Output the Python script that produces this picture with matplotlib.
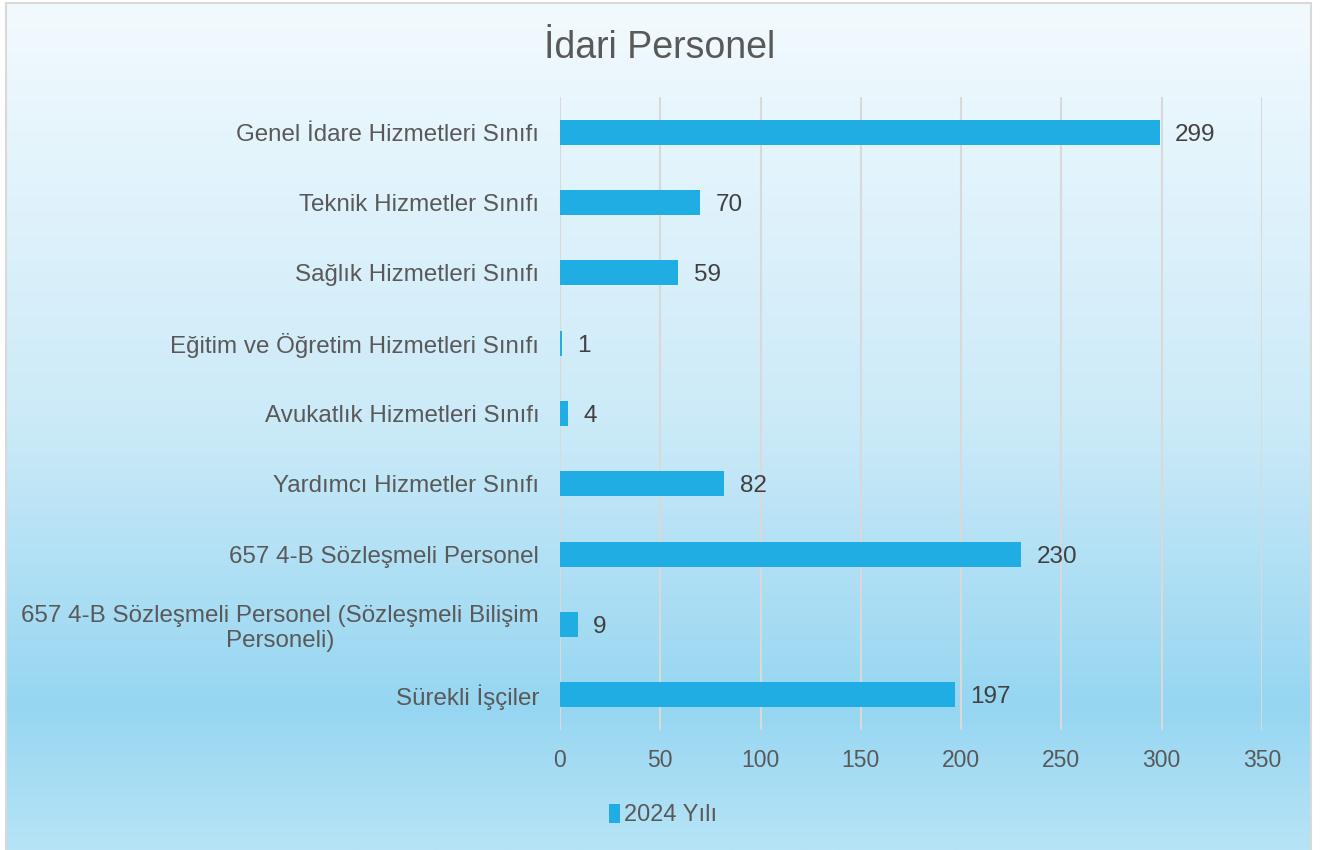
import matplotlib
matplotlib.use("Agg")
import matplotlib.pyplot as plt
import numpy as np
from matplotlib.colors import LinearSegmentedColormap
from matplotlib.patches import Rectangle

categories = [
    "Genel İdare Hizmetleri Sınıfı",
    "Teknik Hizmetler Sınıfı",
    "Sağlık Hizmetleri Sınıfı",
    "Eğitim ve Öğretim Hizmetleri Sınıfı",
    "Avukatlık Hizmetleri Sınıfı",
    "Yardımcı Hizmetler Sınıfı",
    "657 4-B Sözleşmeli Personel",
    "657 4-B Sözleşmeli Personel (Sözleşmeli Bilişim\nPersoneli)",
    "Sürekli İşçiler",
]
values = [299, 70, 59, 1, 4, 82, 230, 9, 197]
series_name = "2024 Yılı"
title = "İdari Personel"
xticks = [0, 50, 100, 150, 200, 250, 300, 350]

plt.rcParams['font.family'] = ['Liberation Sans', 'DejaVu Sans']

W, H = 1320, 850
fig = plt.figure(figsize=(W / 100, H / 100), dpi=100)
fig.patch.set_facecolor("white")

# gradient background
bg = fig.add_axes([5 / W, 0, (1311 - 5) / W, 1 - 2 / H], zorder=-10)
cmap = LinearSegmentedColormap.from_list(
    "bg",
    [(0.0, "#F3FAFE"), (0.15, "#E6F5FC"), (0.5, "#CBEAF8"),
     (0.83, "#96D6F1"), (1.0, "#B6E4F6")])
grad = np.linspace(0, 1, 512).reshape(-1, 1)
bg.imshow(grad, aspect="auto", cmap=cmap, extent=[0, 1, 1, 0])
bg.set_xlim(0, 1)
bg.set_ylim(1, 0)
bg.axis("off")
fig.add_artist(Rectangle((5.5 / W, -0.01), (1311 - 5.5) / W, 1 - 2.5 / H + 0.01,
                         transform=fig.transFigure, fill=False,
                         edgecolor="#D9D9D9", linewidth=1.5, zorder=5))

ax = fig.add_axes([560 / W, 1 - 730 / H, (1262 - 560) / W, (730 - 97) / H])
ax.patch.set_alpha(0)
y = np.arange(len(categories))
bars = ax.barh(y, values, height=0.36, color="#1FADE4", zorder=3, label=series_name)
ax.set_ylim(len(categories) - 0.5, -0.5)
ax.set_xlim(0, 350)
ax.set_xticks(xticks)
ax.set_xticklabels([str(t) for t in xticks])
ax.set_yticks(y)
ax.set_yticklabels(categories)
for lbl in ax.get_yticklabels():
    lbl.set_multialignment("center")
ax.tick_params(axis="y", length=0, pad=15, labelsize=17.4, labelcolor="#595959")
ax.tick_params(axis="x", length=0, pad=14, labelsize=16.5, labelcolor="#595959")
ax.grid(axis="x", color="#D9D9D9", linewidth=1.5, zorder=0)
for s in ax.spines.values():
    s.set_visible(False)

for yi, v in zip(y, values):
    ax.annotate(str(v), (v, yi), xytext=(11, 0), textcoords="offset points",
                ha="left", va="center_baseline", fontsize=17.5, color="#404040")

fig.text(0.5, 1 - 48 / H, title, ha="center", va="center", fontsize=27, color="#595959")

leg = fig.legend(handles=[bars], labels=[series_name], loc="center left",
                 bbox_to_anchor=(609 / W, 1 - 815 / H), frameon=False,
                 fontsize=17, handlelength=0.45, handleheight=0.9,
                 handletextpad=0.2, borderaxespad=0, borderpad=0)
for t in leg.get_texts():
    t.set_color("#595959")

fig.savefig("out.png", dpi=100)
